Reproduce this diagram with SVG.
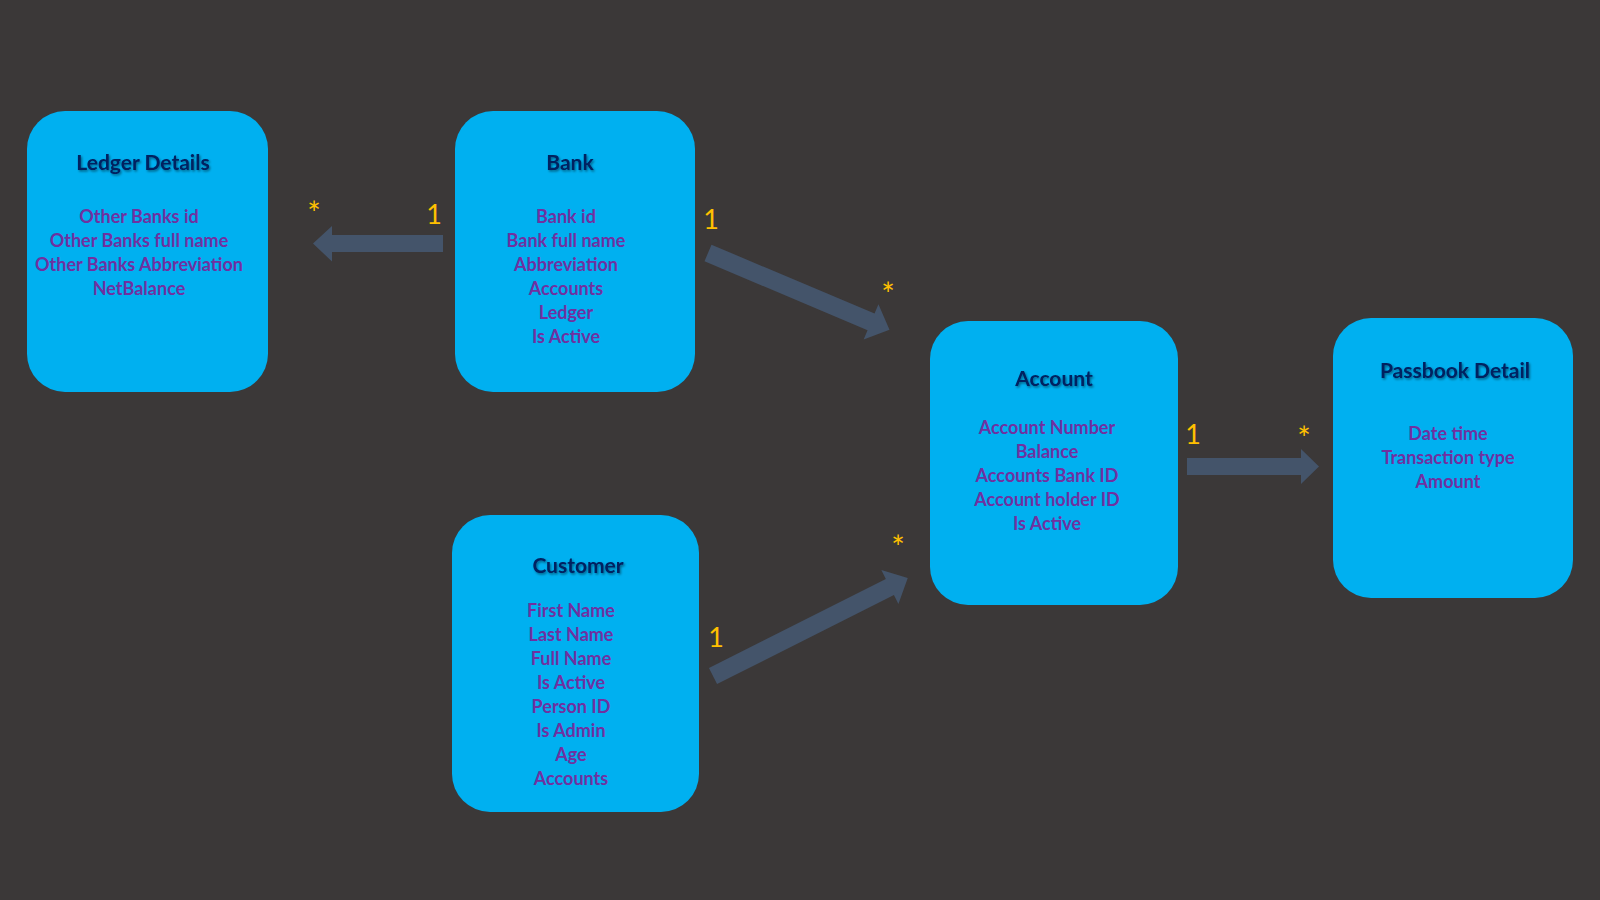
<svg xmlns="http://www.w3.org/2000/svg" width="1600" height="900" viewBox="0 0 1600 900">
<defs>
<filter id="ts" x="-10%" y="-30%" width="130%" height="170%">
<feDropShadow dx="1.2" dy="1.5" stdDeviation="1" flood-color="#000" flood-opacity="0.45"/>
</filter>
<style>
.box{fill:#00B0F0;}
.title{font-family:Lato,"Liberation Sans",sans-serif;font-weight:bold;font-size:21px;fill:#002060;text-anchor:middle;filter:url(#ts);}
.attr{font-family:Lato,"Liberation Sans",sans-serif;font-weight:bold;font-size:18px;fill:#7030A0;text-anchor:middle;}
.arrow{fill:#44546A;}
.card{font-family:Lato,"Liberation Sans",sans-serif;font-size:27px;fill:#FFC000;text-anchor:middle;}
.star{font-family:Lato,"Liberation Sans",sans-serif;font-size:32px;fill:#FFC000;text-anchor:middle;}
</style>
</defs>
<rect width="1600" height="900" fill="#3B3838"/>

<g id="connectors">
<polygon class="arrow" points="443,235 332,235 332,226 313,243.5 332,261.5 332,252 443,252"/>
<polygon class="arrow" transform="translate(708,253) rotate(22.9)" points="0,-9 177,-9 177,-19 197,0 177,19 177,9 0,9"/>
<polygon class="arrow" transform="translate(713,676) rotate(-26.7)" points="0,-9 198,-9 198,-19 218,0 198,19 198,9 0,9"/>
<polygon class="arrow" points="1187,458 1301,458 1301,449 1319,466.5 1301,484 1301,475 1187,475"/>
<text class="card" x="434" y="224">1</text>
<text class="star" x="314" y="225">*</text>
<text class="card" x="711" y="229">1</text>
<text class="star" x="888" y="306">*</text>
<text class="card" x="716" y="647">1</text>
<text class="star" x="898" y="559">*</text>
<text class="card" x="1193" y="444">1</text>
<text class="star" x="1304" y="450">*</text>
</g>

<g id="ledger">
<rect class="box" x="27" y="111" width="241" height="281" rx="38"/>
<text class="title" x="143" y="170">Ledger Details</text>
<text class="attr" x="139" y="222.7">Other Banks id</text>
<text class="attr" x="139" y="246.7">Other Banks full name</text>
<text class="attr" x="139" y="270.7">Other Banks Abbreviation</text>
<text class="attr" x="139" y="294.7">NetBalance</text>
</g>

<g id="bank">
<rect class="box" x="455" y="111" width="240" height="281" rx="38"/>
<text class="title" x="570" y="170">Bank</text>
<text class="attr" x="566" y="222.7">Bank id</text>
<text class="attr" x="566" y="246.7">Bank full name</text>
<text class="attr" x="566" y="270.7">Abbreviation</text>
<text class="attr" x="566" y="294.7">Accounts</text>
<text class="attr" x="566" y="318.7">Ledger</text>
<text class="attr" x="566" y="342.7">Is Active</text>
</g>

<g id="account">
<rect class="box" x="930" y="321" width="248" height="284" rx="38"/>
<text class="title" x="1054" y="385.7">Account</text>
<text class="attr" x="1047" y="434">Account Number</text>
<text class="attr" x="1047" y="458">Balance</text>
<text class="attr" x="1047" y="482">Accounts Bank ID</text>
<text class="attr" x="1047" y="506">Account holder ID</text>
<text class="attr" x="1047" y="530">Is Active</text>
</g>

<g id="passbook">
<rect class="box" x="1333" y="318" width="240" height="280" rx="38"/>
<text class="title" x="1455" y="378">Passbook Detail</text>
<text class="attr" x="1448" y="440">Date time</text>
<text class="attr" x="1448" y="464">Transaction type</text>
<text class="attr" x="1448" y="488">Amount</text>
</g>

<g id="customer">
<rect class="box" x="452" y="515" width="247" height="297" rx="38"/>
<text class="title" x="578" y="573">Customer</text>
<text class="attr" x="571" y="617.3">First Name</text>
<text class="attr" x="571" y="641.3">Last Name</text>
<text class="attr" x="571" y="665.3">Full Name</text>
<text class="attr" x="571" y="689.3">Is Active</text>
<text class="attr" x="571" y="713.3">Person ID</text>
<text class="attr" x="571" y="737.3">Is Admin</text>
<text class="attr" x="571" y="761.3">Age</text>
<text class="attr" x="571" y="785.3">Accounts</text>
</g>
</svg>
